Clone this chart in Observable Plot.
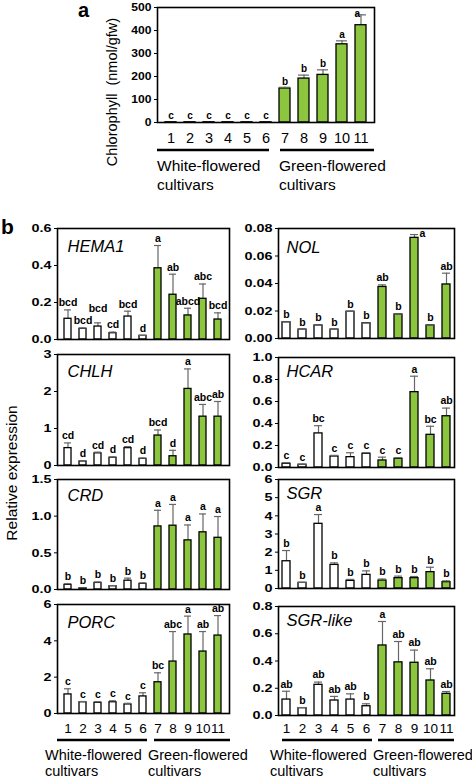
<!DOCTYPE html>
<html><head><meta charset="utf-8">
<script src="https://cdn.jsdelivr.net/npm/d3@7"></script>
<script src="https://cdn.jsdelivr.net/npm/@observablehq/plot@0.6"></script>
<style>
body{margin:0;background:#fff;}
#fig{position:relative;width:472px;height:780px;overflow:hidden;background:#fff;font-family:"Liberation Sans",Arial,sans-serif;}
#fig svg{position:absolute;}
</style></head><body><div id="fig"></div>
<script>
// ---------- data ----------
const cultivars = ["1","2","3","4","5","6","7","8","9","10","11"];
const greenFlowered = [false,false,false,false,false,false,true,true,true,true,true];

const chlValues  = [1,1,1,1,1,1,148,191,207,340,423];
const chlErrors  = [0,0,0,0,0,0,5,15,22,15,45];
const chlLetters = ["c","c","c","c","c","c","b","b","b","a","a"];

const hema1Values  = [0.112,0.058,0.07,0.034,0.124,0.02,0.385,0.242,0.13,0.22,0.108];
const hema1Errors  = [0.048,0.004,0.02,0.006,0.029,0.002,0.123,0.111,0.039,0.08,0.036];
const hema1Letters = ["bcd","bcd","bcd","cd","bcd","d","a","ab","abcd","abc","bcd"];

const nolValues  = [0.0118,0.0065,0.0095,0.0065,0.0195,0.0111,0.0375,0.0175,0.0732,0.0095,0.0393];
const nolErrors  = [0.0003,0.0002,0.0003,0.0002,0.0003,0.0002,0.0015,0.0003,0.0024,0.0003,0.0082];
const nolLetters = ["b","b","b","b","b","b","ab","b","a","b","ab"];

const chlhValues  = [0.47,0.11,0.33,0.21,0.47,0.18,0.81,0.25,2.07,1.32,1.32];
const chlhErrors  = [0.14,0.02,0.03,0.02,0.04,0.02,0.15,0.16,0.54,0.33,0.41];
const chlhLetters = ["cd","d","cd","d","cd","d","bcd","d","a","abc","ab"];

const hcarValues  = [0.034,0.025,0.31,0.10,0.094,0.125,0.064,0.079,0.685,0.297,0.466];
const hcarErrors  = [0.01,0.005,0.07,0.01,0.04,0.01,0.03,0.01,0.145,0.078,0.074];
const hcarLetters = ["c","c","bc","c","c","c","c","c","a","bc","ab"];

const crdValues  = [0.064,0.018,0.09,0.045,0.12,0.077,0.86,0.87,0.67,0.78,0.705];
const crdErrors  = [0.015,0.005,0.012,0.008,0.035,0.012,0.22,0.29,0.21,0.25,0.29];
const crdLetters = ["b","b","b","b","b","b","a","a","a","a","a"];

const sgrValues  = [1.50,0.31,3.56,1.30,0.42,0.75,0.44,0.57,0.57,0.90,0.35];
const sgrErrors  = [0.59,0.03,0.51,0.11,0.08,0.22,0.08,0.11,0.09,0.27,0.07];
const sgrLetters = ["b","b","a","b","b","b","b","b","b","b","b"];

const porcValues  = [1.05,0.62,0.59,0.62,0.50,0.94,1.72,2.86,4.35,3.41,4.29];
const porcErrors  = [0.31,0.04,0.06,0.08,0.06,0.20,0.52,1.65,1.01,1.10,1.10];
const porcLetters = ["c","c","c","c","c","c","bc","abc","a","ab","ab"];

const sgrlValues  = [0.117,0.054,0.225,0.11,0.117,0.068,0.514,0.39,0.387,0.257,0.159];
const sgrlErrors  = [0.061,0.004,0.02,0.03,0.042,0.018,0.176,0.153,0.093,0.086,0.017];
const sgrlLetters = ["ab","b","ab","ab","ab","b","a","ab","ab","ab","ab"];

const groupNames = ["White-flowered", "Green-flowered"];

// ---------- drawing ----------
const GREEN = "#8cc63f";
const fig = document.getElementById("fig");
const FONT = "Liberation Sans, Arial, sans-serif";

function stretch(svg, sel, s) {
  d3.select(svg).selectAll(sel).each(function () {
    const x = +this.getAttribute("x") || 0, y = +this.getAttribute("y") || 0;
    const t = this.getAttribute("transform") || "";
    this.setAttribute("transform", `${t} translate(${x},${y}) scale(${s},1) translate(${-x},${-y})`);
  });
}

function panel(o) {
  const data = cultivars.map((c, i) => ({c, v: o.values[i], e: o.errors[i], l: o.letters[i], g: greenFlowered[i]}));
  // letter placement: above the error bar, lifted when it would collide with the previous letter
  const ppu = (o.FB - o.FT) / o.max;
  const step = (o.FR - o.FL) / cultivars.length;
  const cw = o.letterSize * 0.58;
  data.forEach((d, i) => {
    let ly = (d.v + d.e) * ppu + o.letterGap;
    if (i > 0) {
      const p = data[i - 1];
      const overlapX = (d.l.length + p.l.length) * cw / 2 > step;
      if (overlapX && Math.abs(ly - p.ly) < o.letterSize + 1) ly = Math.max(ly, p.ly + o.letterSize + 2);
    }
    d.ly = ly;
    d.labelY = ly / ppu;
  });
  const mt = 8, mb = o.xAxis ? 34 : 4, mr = 6;
  const L = o.left;
  const height = mt + (o.FB - o.FT) + mb;
  const width = o.FR - L + mr;
  const top = (d) => (d.v + d.e) / o.max > o.topThresh;
  const marks = [
    Plot.ruleX(data, {x: "c", y1: "v", y2: d => d.v + d.e, stroke: "#666", strokeWidth: 1.2}),
    Plot.barY(data.filter(d => !d.g), {x: "c", y: "v", fill: "white", stroke: "black", strokeWidth: 1.3}),
    Plot.barY(data.filter(d => d.g), {x: "c", y: "v", fill: GREEN, stroke: "black", strokeWidth: 1.3}),
    Plot.tickY(data.filter(d => d.e > 0), {x: "c", y: d => d.v + d.e, stroke: "#666", strokeWidth: 1.2}),
    Plot.text(data.filter(d => !top(d)), {x: "c", y: "labelY", text: "l", fontWeight: "bold", fontSize: o.letterSize, fill: "black"}),
    Plot.text(data.filter(top), {x: "c", y: d => d.v + d.e, text: "l", dx: o.topDx, dy: -1, textAnchor: o.topDx > 0 ? "start" : "end", fontWeight: "bold", fontSize: o.letterSize, fill: "black"}),
    Plot.frame({stroke: "black", strokeWidth: 1.6})
  ];
  if (o.name) marks.push(Plot.text([o.name], {frameAnchor: "top-left", dx: o.nameDx, dy: o.nameDy, lineAnchor: "top", text: d => d, fontStyle: "italic", fontSize: 16.5, fill: "black"}));
  const svg = Plot.plot({
    width, height, marginLeft: o.FL - L, marginRight: mr, marginTop: mt, marginBottom: mb,
    style: {background: "transparent", fontFamily: FONT, color: "black", overflow: "visible"},
    x: {type: "band", domain: cultivars, paddingInner: o.pad, paddingOuter: o.pad / 2,
        axis: o.xAxis ? "bottom" : null, tickSize: 0, tickPadding: o.xPad || 10, label: null},
    y: {domain: [0, o.max], ticks: o.ticks, tickFormat: o.fmt, tickSize: 3, tickPadding: 3, label: null},
    marks
  });
  d3.select(svg).selectAll('[aria-label^="y-axis"] text').attr("font-weight", "bold").attr("font-size", o.yFont).attr("fill", "black");
  d3.select(svg).selectAll('[aria-label^="x-axis"] text').attr("font-size", o.xFont || 13).attr("fill", "black");
  stretch(svg, '[aria-label^="y-axis"] text', o.yStretch || 1);
  svg.style.left = L + "px";
  svg.style.top = (o.FT - mt) + "px";
  fig.appendChild(svg);
}

const range = (a, b, s) => d3.range(a, b + s / 2, s);
const f1 = d3.format(".1f"), f2 = d3.format(".2f"), f0 = d3.format("d");
const leftCol = {left: 0, FL: 57, FR: 229, pad: 0.53, yFont: 11.5, yStretch: 1.25, letterSize: 10.5, letterGap: 7, topThresh: 0.95, topDx: 6, nameDx: 10};
const rightCol = {left: 236, FL: 278, FR: 454, pad: 0.47, yFont: 11.5, yStretch: 1.25, letterSize: 10.5, letterGap: 7, topThresh: 0.9, topDx: 5, nameDx: 8};

// panel a
panel({left: 0, FL: 157, FR: 374, FT: 7, FB: 122, pad: 0.44, max: 500, ticks: range(0, 500, 100), fmt: f0,
  values: chlValues, errors: chlErrors, letters: chlLetters, yFont: 10.5, yStretch: 1.15, letterSize: 10, letterGap: 6,
  topThresh: 0.92, topDx: -1, xAxis: true, xFont: 14.5, xPad: 10});

// panel b
panel({...leftCol, FT: 228, FB: 339, max: 0.6, ticks: range(0, 0.6, 0.2), fmt: f1, values: hema1Values, errors: hema1Errors, letters: hema1Letters, name: "HEMA1", nameDy: 12});
panel({...leftCol, FT: 354, FB: 465, max: 3, ticks: range(0, 3, 1), fmt: f0, values: chlhValues, errors: chlhErrors, letters: chlhLetters, name: "CHLH", nameDy: 11});
panel({...leftCol, FT: 479, FB: 589, max: 1.5, ticks: range(0, 1.5, 0.5), fmt: f1, values: crdValues, errors: crdErrors, letters: crdLetters, name: "CRD", nameDy: 10});
panel({...leftCol, FT: 604, FB: 713, max: 6, ticks: range(0, 6, 2), fmt: f0, values: porcValues, errors: porcErrors, letters: porcLetters, name: "PORC", nameDy: 12, xAxis: true, xFont: 13.5, xPad: 10});

panel({...rightCol, FT: 228, FB: 338, max: 0.08, ticks: range(0, 0.08, 0.02), fmt: f2, values: nolValues, errors: nolErrors, letters: nolLetters, name: "NOL", nameDy: 13});
panel({...rightCol, FT: 357, FB: 467, max: 1.0, ticks: range(0, 1, 0.2), fmt: f1, values: hcarValues, errors: hcarErrors, letters: hcarLetters, name: "HCAR", nameDy: 8});
panel({...rightCol, FT: 479, FB: 588, max: 6, ticks: range(0, 6, 1), fmt: f0, values: sgrValues, errors: sgrErrors, letters: sgrLetters, name: "SGR", nameDy: 8});
panel({...rightCol, FT: 606, FB: 715, max: 0.8, ticks: range(0, 0.8, 0.2), fmt: f1, values: sgrlValues, errors: sgrlErrors, letters: sgrlLetters, name: "SGR-like", nameDy: 8, xAxis: true, xFont: 13.5, xPad: 8});

// ---------- annotation overlay ----------
const ov = d3.select(fig).append("svg").attr("width", 472).attr("height", 780)
  .style("left", "0px").style("top", "0px").style("pointer-events", "none")
  .attr("font-family", FONT);
ov.append("text").attr("x", 78).attr("y", 17).attr("font-size", 20).attr("font-weight", "bold").text("a");
ov.append("text").attr("x", 1).attr("y", 234).attr("font-size", 21).attr("font-weight", "bold").text("b");
ov.append("text").attr("transform", "translate(117,92) rotate(-90)").attr("text-anchor", "middle")
  .attr("font-size", 14.5).style("white-space", "pre").text("Chlorophyll  (nmol/gfw)");
ov.append("text").attr("transform", "translate(17,473) rotate(-90)").attr("text-anchor", "middle")
  .attr("font-size", 15.5).text("Relative expression");

function group(x1a, x2a, x1b, x2b, ly, tx1, tx2, ty, fs, gap) {
  ov.append("line").attr("x1", x1a).attr("x2", x2a).attr("y1", ly).attr("y2", ly).attr("stroke", "black").attr("stroke-width", 2.6);
  ov.append("line").attr("x1", x1b).attr("x2", x2b).attr("y1", ly).attr("y2", ly).attr("stroke", "black").attr("stroke-width", 2.6);
  [[tx1, groupNames[0]], [tx2, groupNames[1]]].forEach(([x, t]) => {
    ov.append("text").attr("x", x).attr("y", ty).attr("font-size", fs).text(t);
    ov.append("text").attr("x", x).attr("y", ty + gap).attr("font-size", fs).text("cultivars");
  });
}
group(157, 269, 280, 374, 150, 157, 279, 171, 15.5, 19);
group(57, 147, 154, 230, 740, 45, 148, 760, 14.5, 16);
group(282, 372, 378, 454, 740, 270, 373, 760, 14.5, 16);
</script></body></html>
